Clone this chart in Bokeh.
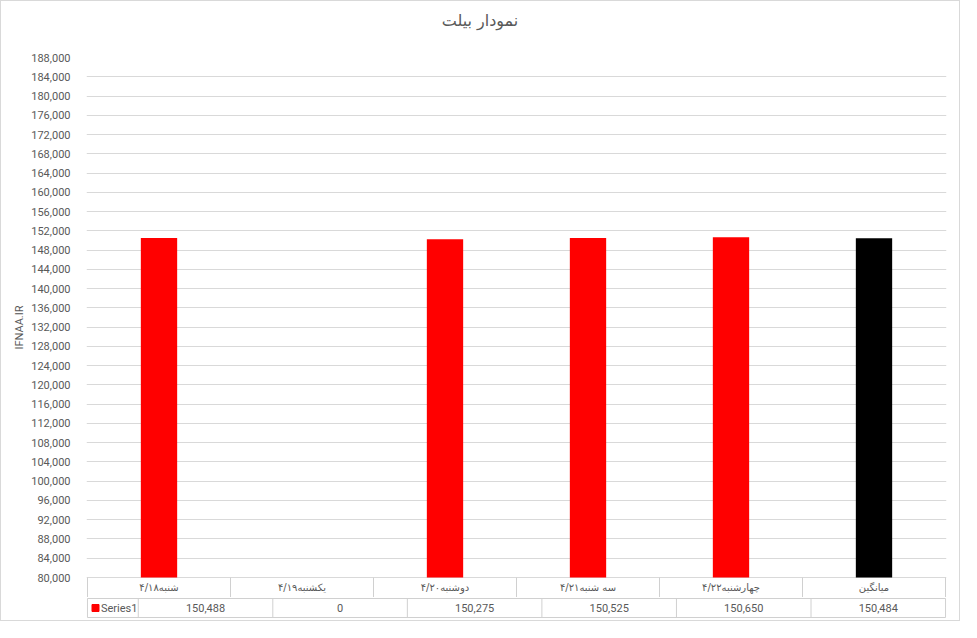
from bokeh.plotting import figure
from bokeh.layouts import column
from bokeh.models import Range1d, FixedTicker, NumeralTickFormatter, ColumnDataSource, Div
from bokeh.core.properties import value
from bokeh.embed import file_html
from bokeh.resources import INLINE

# ---- data ----
title_text = "نمودار بیلت"
y_title = "IFNAA.IR"
categories = ["شنبه۴/۱۸", "یکشنبه۴/۱۹", "دوشنبه۴/۲۰", "سه شنبه۴/۲۱", "چهارشنبه۴/۲۲", "میانگین"]
values = [150488, 0, 150275, 150525, 150650, 150484]
bar_colors = ["#ff0000", "#ff0000", "#ff0000", "#ff0000", "#ff0000", "#000000"]
series_name = "Series1"
y_min, y_max, y_step = 80000, 188000, 4000

# ---- layout constants (pixels) ----
W = 958
FR_L, FR_R, FR_T = 86, 14, 56   # plot area edges
TITLE_H = 48                    # height of the title strip
PLOT_BOTTOM = 576               # pixel row of the y_min gridline
ROW1 = 20                       # category row height
ROW2 = 19                       # value row height
TOTAL_H = 619
TBL_L = 32
FONT = "Roboto"
FA_FONT = "DejaVu Sans"
TXT = "#595959"
GRID = "#d9d9d9"
LINE = "#d0d0d0"

n = len(categories)
xs = [i + 0.5 for i in range(n)]
cat_w = (W - FR_L - FR_R) / n
px = 1 / cat_w
units_per_px = (y_max - y_min) / (PLOT_BOTTOM - FR_T)
row1_data = ROW1 * units_per_px
y_start = y_min - row1_data
top_h = PLOT_BOTTOM + ROW1 - TITLE_H

title = Div(text=title_text, width=W, height=TITLE_H, margin=0,
            styles={"font-family": FA_FONT, "font-size": "16px", "color": TXT,
                    "text-align": "center", "line-height": "40px"})

p = figure(width=W, height=top_h, x_range=Range1d(-px, n + px), y_range=Range1d(y_start, y_max),
           output_backend="svg", toolbar_location=None, x_axis_location=None,
           min_border_left=FR_L - 1, min_border_right=FR_R - 1, min_border_top=FR_T - TITLE_H,
           min_border_bottom=0)
p.outline_line_color = None
p.xgrid.grid_line_color = None
p.ygrid.grid_line_color = GRID
p.yaxis.ticker = FixedTicker(ticks=list(range(y_min, y_max + 1, y_step)))
p.yaxis.formatter = NumeralTickFormatter(format="0,0")
p.yaxis.axis_line_color = None
p.yaxis.major_tick_line_color = None
p.yaxis.minor_tick_line_color = None
p.yaxis.major_label_standoff = 10
p.yaxis.major_label_text_font = FONT
p.yaxis.major_label_text_font_size = "11px"
p.yaxis.major_label_text_color = TXT
p.yaxis.axis_label = y_title
p.yaxis.axis_label_text_font = FONT
p.yaxis.axis_label_text_font_size = "11px"
p.yaxis.axis_label_text_font_style = "normal"
p.yaxis.axis_label_text_color = TXT
p.yaxis.axis_label_standoff = 2

src = ColumnDataSource(dict(x=xs, top=[max(v, y_min) for v in values], color=bar_colors))
p.vbar(x="x", top="top", bottom=y_min, width=0.254, fill_color="color", line_color=None, source=src)

# category row of the data table (below the y_min gridline)
p.segment(x0=list(range(n + 1)), y0=[y_start] * (n + 1), x1=list(range(n + 1)), y1=[y_min] * (n + 1),
          line_color=LINE, line_width=1)
p.text(x=xs, y=[y_min - row1_data / 2] * n, text=categories, text_align="center", text_baseline="middle",
       text_font=value(FA_FONT), text_font_size="10px", text_color=TXT)

# ---- value row of the data table ----
ext = (FR_L - TBL_L) / cat_w
pad = 1 / ROW2
bot_h = TOTAL_H - (PLOT_BOTTOM + ROW1)
t = figure(width=W, height=bot_h, x_range=Range1d(-ext - px, n + px), y_range=Range1d(1 + pad, -pad),
           output_backend="svg", toolbar_location=None, x_axis_location=None, y_axis_location=None,
           min_border_left=TBL_L - 1, min_border_right=FR_R - 1, min_border_top=0,
           min_border_bottom=bot_h - ROW2 - 2)
t.outline_line_color = None
t.xgrid.grid_line_color = None
t.ygrid.grid_line_color = None

t.segment(x0=[-ext, -ext], y0=[0, 1], x1=[n, n], y1=[0, 1], line_color=LINE, line_width=1)
t.segment(x0=list(range(n + 1)) + [-ext], y0=[0] * (n + 2),
          x1=list(range(n + 1)) + [-ext], y1=[1] * (n + 2), line_color=LINE, line_width=1)
t.text(x=xs, y=[0.5] * n, text=[f"{v:,}" for v in values], text_align="center", text_baseline="middle",
       text_font=value(FONT), text_font_size="11px", text_color=TXT)
t.scatter(x=[-ext + 0.06], y=[0.5], marker="square", size=7, color="#ff0000")
t.text(x=[-ext + 0.1], y=[0.5], text=[series_name], text_align="left", text_baseline="middle",
       text_font=value(FONT), text_font_size="11px", text_color=TXT)

layout = column(title, p, t, spacing=0, styles={"border": "1px solid #d9d9d9"})
open("out.html", "w").write(file_html(layout, INLINE))
